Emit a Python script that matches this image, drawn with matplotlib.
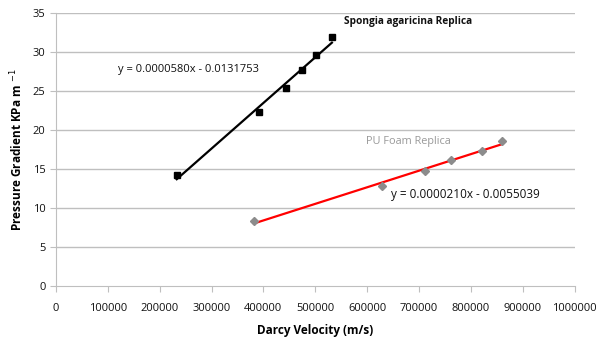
import matplotlib
matplotlib.use("Agg")
import matplotlib.pyplot as plt
from matplotlib.ticker import FuncFormatter
import numpy as np

plt.rcParams['font.family'] = ['Open Sans', 'DejaVu Sans']

# Spongia agaricina replica
sp_x = [233000, 391000, 443000, 474000, 501000, 532000]
sp_y = [14.2, 22.3, 25.4, 27.7, 29.6, 31.9]

# PU foam replica
pu_x = [381500, 628000, 711000, 761000, 821000, 859000]
pu_y = [8.3, 12.9, 14.7, 16.2, 17.3, 18.6]

sp_eq = "y = 0.0000580x - 0.0131753"
pu_eq = "y = 0.0000210x - 0.0055039"

fig = plt.figure(figsize=(6, 3.55), dpi=100)
ax = fig.add_axes([0.093, 0.194, 0.865, 0.769])

grid_c = '#bfbfbf'
for y in range(5, 36, 5):
    ax.axhline(y, color=grid_c, lw=1.0, zorder=0)

# trend lines (least squares through the points)
for xs, ys, c in [(sp_x, sp_y, 'black'), (pu_x, pu_y, 'red')]:
    k, b = np.polyfit(xs, ys, 1)
    xx = np.array([min(xs), max(xs)])
    ax.plot(xx, k * xx + b, color=c, lw=1.6, zorder=3)

ax.plot(sp_x, sp_y, 's', color='black', ms=5, zorder=4)
ax.plot(pu_x, pu_y, 'D', color='#8c8c8c', ms=4, zorder=4)

ax.set_xlim(0, 1000000)
ax.set_ylim(0, 35)
ax.set_xticks(np.arange(0, 1000001, 100000))
ax.set_yticks(np.arange(0, 36, 5))
ax.xaxis.set_major_formatter(FuncFormatter(lambda v, p: "%d" % v))
ax.tick_params(axis='both', direction='out', length=4, color=grid_c,
               labelsize=8, labelcolor='#111111')
ax.tick_params(axis='x', pad=8)

for s in ['top', 'right']:
    ax.spines[s].set_visible(False)
for s in ['left', 'bottom']:
    ax.spines[s].set_color(grid_c)

ax.set_xlabel("Darcy Velocity (m/s)", fontsize=8.5, fontweight='bold', labelpad=7)
ax.set_ylabel("Pressure Gradient KPa m $^{-1}$", fontsize=8.5, fontweight='bold', labelpad=5)

ax.text(555000, 33.9, "Spongia agaricina Replica", fontsize=7.3, fontweight='bold',
        color='#111111', va='center')
ax.text(119000, 27.8, sp_eq, fontsize=8, color='#111111', va='center')
ax.text(598000, 18.5, "PU Foam Replica", fontsize=7.8, color='#999999', va='center')
ax.text(645000, 11.7, pu_eq, fontsize=8.5, color='#111111', va='center')

fig.savefig("out.png", dpi=100)
